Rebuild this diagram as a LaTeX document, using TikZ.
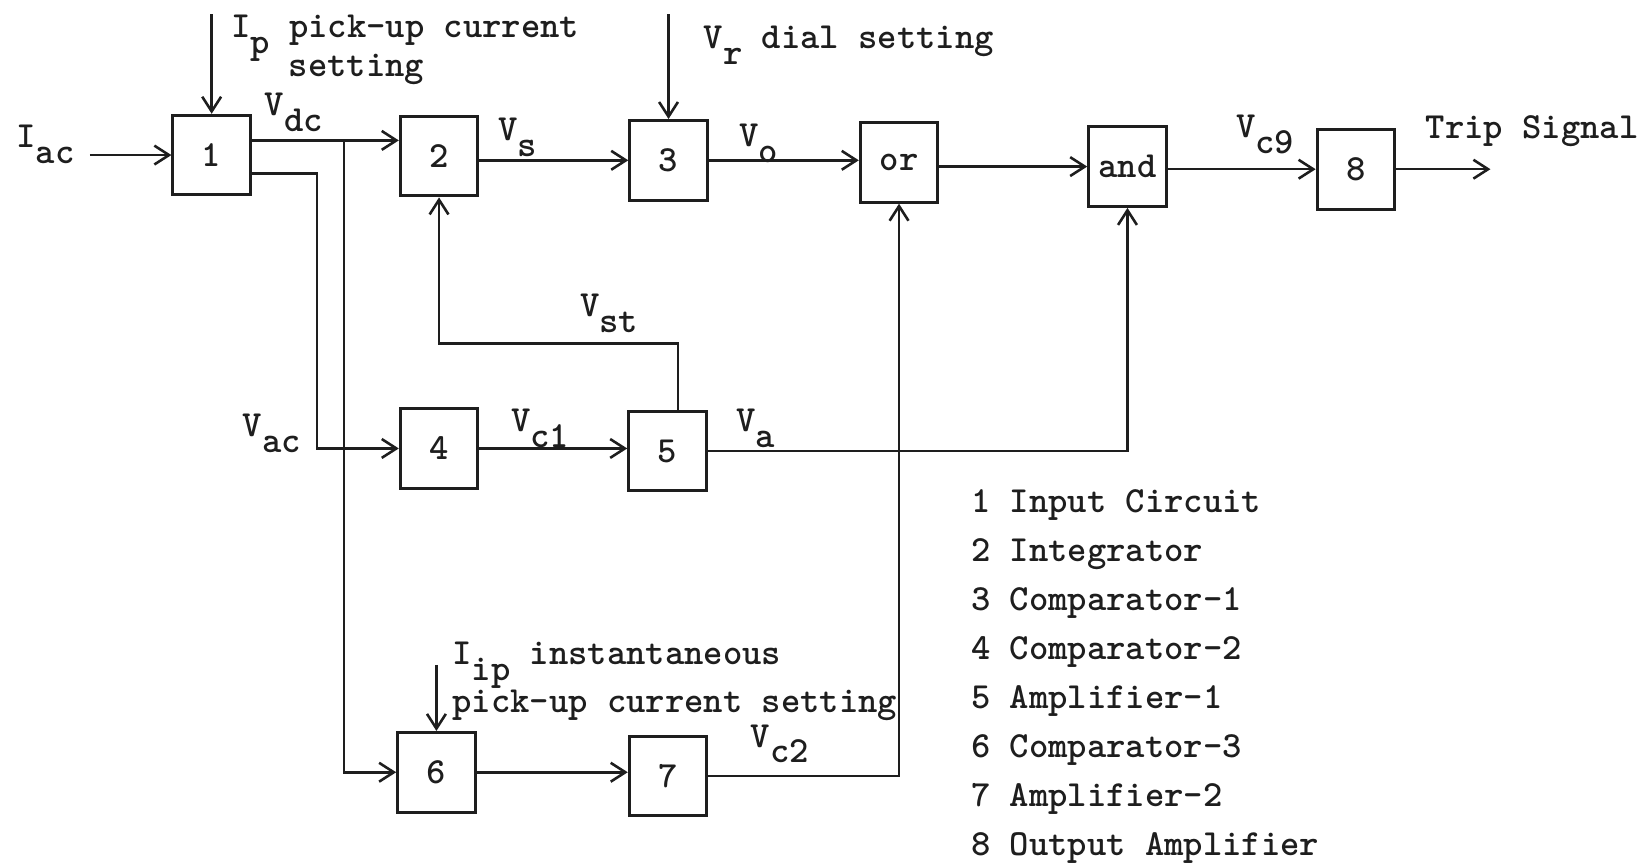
\documentclass[tikz,border=0pt]{standalone}
\usepackage{tikz}
\usetikzlibrary{arrows.meta, positioning, calc}
\definecolor{ink}{HTML}{1E1E1E}
\newcommand{\lowsub}[2]{#1\raisebox{-1ex}{#2}}

\begin{document}
\begin{tikzpicture}[
  font=\ttfamily\bfseries,
  unit/.style={draw=ink, line width=0.8pt, minimum width=0.74cm, minimum height=0.76cm, inner sep=0pt, text=ink},
  sigtxt/.style={inner sep=0pt, anchor=base west, text=ink},
  wire/.style={draw=ink, line width=0.7pt, -{Straight Barb[length=1.4mm, width=1.8mm]}}
]
  \useasboundingbox (0,0) rectangle (15.68,-8.24);

  % blocks
  \node[unit] (b1) at (2.02,-1.48) {1};
  \node[unit] (b2) at (4.19,-1.49) {2};
  \node[unit] (b3) at (6.38,-1.53) {3};
  \node[unit] (bor) at (8.58,-1.55) {or};
  \node[unit] (band) at (10.76,-1.59) {and};
  \node[unit] (b8) at (12.94,-1.615) {8};
  \node[unit] (b4) at (4.19,-4.28) {4};
  \node[unit] (b5) at (6.37,-4.305) {5};
  \node[unit] (b6) at (4.165,-7.37) {6};
  \node[unit] (b7) at (6.375,-7.405) {7};

  % signal labels
  \node[sigtxt] (iac) at (0.15,-1.41) {\lowsub{I}{ac}};
  \node[sigtxt] (iptxt) at (2.20,-0.355) {\lowsub{I}{p} pick-up current};
  \node[sigtxt] (ipset) at (2.75,-0.73) {setting};
  \node[sigtxt] (vrtxt) at (6.71,-0.46) {\lowsub{V}{r} dial setting};
  \node[sigtxt] (vdc) at (2.52,-1.10) {\lowsub{V}{dc}};
  \node[sigtxt] (vs) at (4.75,-1.34) {\lowsub{V}{s}};
  \node[sigtxt] (vo) at (7.05,-1.40) {\lowsub{V}{o}};
  \node[sigtxt] (vc9) at (11.79,-1.31) {\lowsub{V}{c9}};
  \node[sigtxt] (trip) at (13.60,-1.32) {Trip Signal};
  \node[sigtxt] (vst) at (5.53,-3.02) {\lowsub{V}{st}};
  \node[sigtxt] (vac) at (2.31,-4.17) {\lowsub{V}{ac}};
  \node[sigtxt] (vc1) at (4.87,-4.12) {\lowsub{V}{c1}};
  \node[sigtxt] (va) at (7.02,-4.12) {\lowsub{V}{a}};
  \node[sigtxt] (vc2) at (7.16,-7.13) {\lowsub{V}{c2}};
  \node[sigtxt] (iiptxt) at (4.31,-6.34) {\lowsub{I}{ip} instantaneous};
  \node[sigtxt] (iipset) at (4.31,-6.80) {pick-up current setting};

  % legend (base is the last line)
  \node[sigtxt, align=left, font=\ttfamily\bfseries\fontsize{10}{13.3}\selectfont] (legend) at (9.26,-8.16) {%
    1 Input Circuit\\
    2 Integrator\\
    3 Comparator-1\\
    4 Comparator-2\\
    5 Amplifier-1\\
    6 Comparator-3\\
    7 Amplifier-2\\
    8 Output Amplifier};

  % connectors
  \coordinate (dcout) at ([yshift=1.4mm]b1.east);
  \coordinate (tap) at ([xshift=8.8mm]dcout);
  \coordinate (tripend) at ([xshift=9mm]b8.east);

  \draw[wire, shorten <=1.4mm] (iac.east |- b1.west) -- (b1.west);
  \draw[wire] ([yshift=9.5mm]b1.north) -- (b1.north);
  \draw[wire] (dcout) -- (dcout -| b2.west);
  \draw[wire] (tap) |- (b6.west);
  \draw[wire] ([yshift=-1.75mm]b1.east) -- ++(0.62,0) |- (b4.west);
  \draw[wire] (b3.west -| b2.east) -- (b3.west);
  \draw[wire] ([yshift=10mm]b3.north) -- (b3.north);
  \draw[wire] (b3.east) -- (b3.east -| bor.west);
  \draw[wire] (band.west -| bor.east) -- (band.west);
  \draw[wire] (b8.west -| band.east) -- (b8.west);
  \draw[wire] (b8.east) -- (tripend);
  \draw[wire] ([xshift=1mm]b5.north) -- ++(0,0.63) -| (b2.south);
  \draw[wire] (b4.east) -- (b4.east -| b5.west);
  \draw[wire] (b5.east) -| (band.south);
  \draw[wire] ([yshift=6.3mm]b6.north) -- (b6.north);
  \draw[wire] (b6.east) -- (b6.east -| b7.west);
  \draw[wire] (b7.east) -| (bor.south);
\end{tikzpicture}
\end{document}
